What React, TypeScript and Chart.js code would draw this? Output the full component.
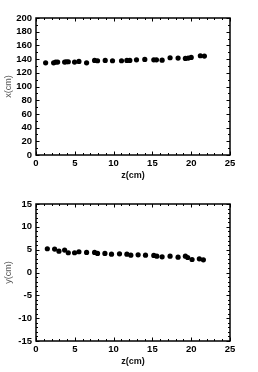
import React, { useEffect, useRef } from "react";
import { Chart, registerables } from "chart.js";

Chart.register(...registerables);

// ---- Data ----
const zTop = [1.24, 2.27, 2.53, 2.79, 3.69, 3.9, 4.16, 4.97, 5.53, 6.52, 7.55, 7.93, 8.92, 9.86, 11.02, 11.71, 12.09, 12.95, 14.02, 15.18, 15.52, 16.25, 17.28, 18.31, 19.25, 19.62, 20.0, 21.18, 21.7];
const xTop = [134.6, 134.6, 135.6, 135.6, 135.6, 136.1, 136.1, 135.6, 136.6, 134.6, 138.0, 137.6, 138.0, 137.6, 137.6, 138.0, 138.0, 139.0, 139.5, 139.0, 139.0, 138.5, 142.0, 141.5, 141.0, 141.5, 142.4, 144.9, 144.4];

const zBot = [1.46, 2.4, 2.96, 3.69, 4.16, 4.97, 5.53, 6.52, 7.55, 7.93, 8.88, 9.73, 10.76, 11.71, 12.22, 13.16, 14.11, 15.18, 15.57, 16.25, 17.28, 18.31, 19.25, 19.55, 20.11, 21.05, 21.57];
const yBot = [5.2, 5.12, 4.68, 4.9, 4.32, 4.32, 4.54, 4.39, 4.39, 4.17, 4.17, 4.02, 4.1, 4.02, 3.8, 3.88, 3.8, 3.73, 3.58, 3.44, 3.58, 3.36, 3.58, 3.29, 2.85, 3.0, 2.78];

const zAxis = { min: 0, max: 25, step: 5, minor: 1, title: "z(cm)" };
const topYAxis = { min: 0, max: 200, step: 20, minor: 10, title: "x(cm)" };
const botYAxis = { min: -15, max: 15, step: 5, minor: 1, title: "y(cm)" };

const FONT = "'Liberation Sans', Arial, Helvetica, sans-serif";

const frameTicks = {
  id: "frameTicks",
  afterDatasetsDraw(chart: any, _args: any, opts: any) {
    const { ctx, chartArea } = chart;
    const { left, right, top, bottom } = chartArea;
    const xs = chart.scales.x;
    const ys = chart.scales.y;
    ctx.save();
    ctx.strokeStyle = "#000";
    ctx.lineWidth = 1;
    const drawX = (step: number, len: number) => {
      for (let v = xs.min; v <= xs.max + 1e-9; v += step) {
        const p = Math.round(xs.getPixelForValue(v)) + 0.5;
        ctx.beginPath();
        ctx.moveTo(p, bottom);
        ctx.lineTo(p, bottom - len);
        ctx.moveTo(p, top);
        ctx.lineTo(p, top + len);
        ctx.stroke();
      }
    };
    const drawY = (step: number, len: number) => {
      for (let v = ys.min; v <= ys.max + 1e-9; v += step) {
        const p = Math.round(ys.getPixelForValue(v)) + 0.5;
        ctx.beginPath();
        ctx.moveTo(left, p);
        ctx.lineTo(left + len, p);
        ctx.moveTo(right, p);
        ctx.lineTo(right - len, p);
        ctx.stroke();
      }
    };
    drawX(opts.xMinor, 2);
    drawX(opts.xMajor, 3.5);
    drawY(opts.yMinor, 2);
    drawY(opts.yMajor, 3.5);
    ctx.lineWidth = 1.5;
    ctx.strokeRect(left, top, right - left, bottom - top);
    ctx.restore();
  },
};

function makeConfig(xs: number[], ys: number[], yAxis: any): any {
  return {
    type: "scatter",
    data: {
      datasets: [
        {
          data: xs.map((v, i) => ({ x: v, y: ys[i] })),
          backgroundColor: "#000",
          borderColor: "#000",
          borderWidth: 0,
          pointRadius: 2.6,
          showLine: false,
        },
      ],
    },
    plugins: [frameTicks],
    options: {
      responsive: false,
      animation: false,
      devicePixelRatio: 1,
      layout: { padding: { left: 0, right: 28, top: 18, bottom: 0 } },
      plugins: {
        legend: { display: false },
        tooltip: { enabled: false },
        frameTicks: { xMinor: zAxis.minor, xMajor: zAxis.step, yMinor: yAxis.minor, yMajor: yAxis.step },
      },
      scales: {
        x: {
          type: "linear",
          min: zAxis.min,
          max: zAxis.max,
          grid: { display: false, drawTicks: false },
          border: { display: false },
          ticks: {
            stepSize: zAxis.step,
            autoSkip: false,
            color: "#000",
            padding: 3,
            maxRotation: 0,
            font: { family: FONT, size: 9.5, weight: "bold" },
          },
          title: {
            display: true,
            text: zAxis.title,
            color: "#111",
            font: { family: FONT, size: 9, weight: "bold" },
            padding: { top: 0, bottom: 5 },
          },
          afterFit(s: any) {
            s.height = 31;
          },
        },
        y: {
          type: "linear",
          min: yAxis.min,
          max: yAxis.max,
          grid: { display: false, drawTicks: false },
          border: { display: false },
          ticks: {
            stepSize: yAxis.step,
            autoSkip: false,
            color: "#000",
            padding: 4,
            font: { family: FONT, size: 9.5, weight: "bold" },
          },
          title: {
            display: true,
            text: yAxis.title,
            color: "#555",
            font: { family: FONT, size: 9, weight: "normal" },
            padding: { top: 3, bottom: 0 },
          },
          afterFit(s: any) {
            s.width = 36;
          },
        },
      },
    },
  };
}

function Plot({ xs, ys, yAxis }: { xs: number[]; ys: number[]; yAxis: any }) {
  const ref = useRef<HTMLCanvasElement | null>(null);
  useEffect(() => {
    if (!ref.current) return;
    const chart = new Chart(ref.current, makeConfig(xs, ys, yAxis));
    return () => chart.destroy();
  }, [xs, ys, yAxis]);
  return <canvas ref={ref} width={258} height={186} style={{ display: "block", width: 258, height: 186 }} />;
}

export default function App() {
  return (
    <div style={{ position: "absolute", left: 0, top: 0, width: 258, height: 372, background: "#fff" }}>
      <Plot xs={zTop} ys={xTop} yAxis={topYAxis} />
      <Plot xs={zBot} ys={yBot} yAxis={botYAxis} />
    </div>
  );
}
